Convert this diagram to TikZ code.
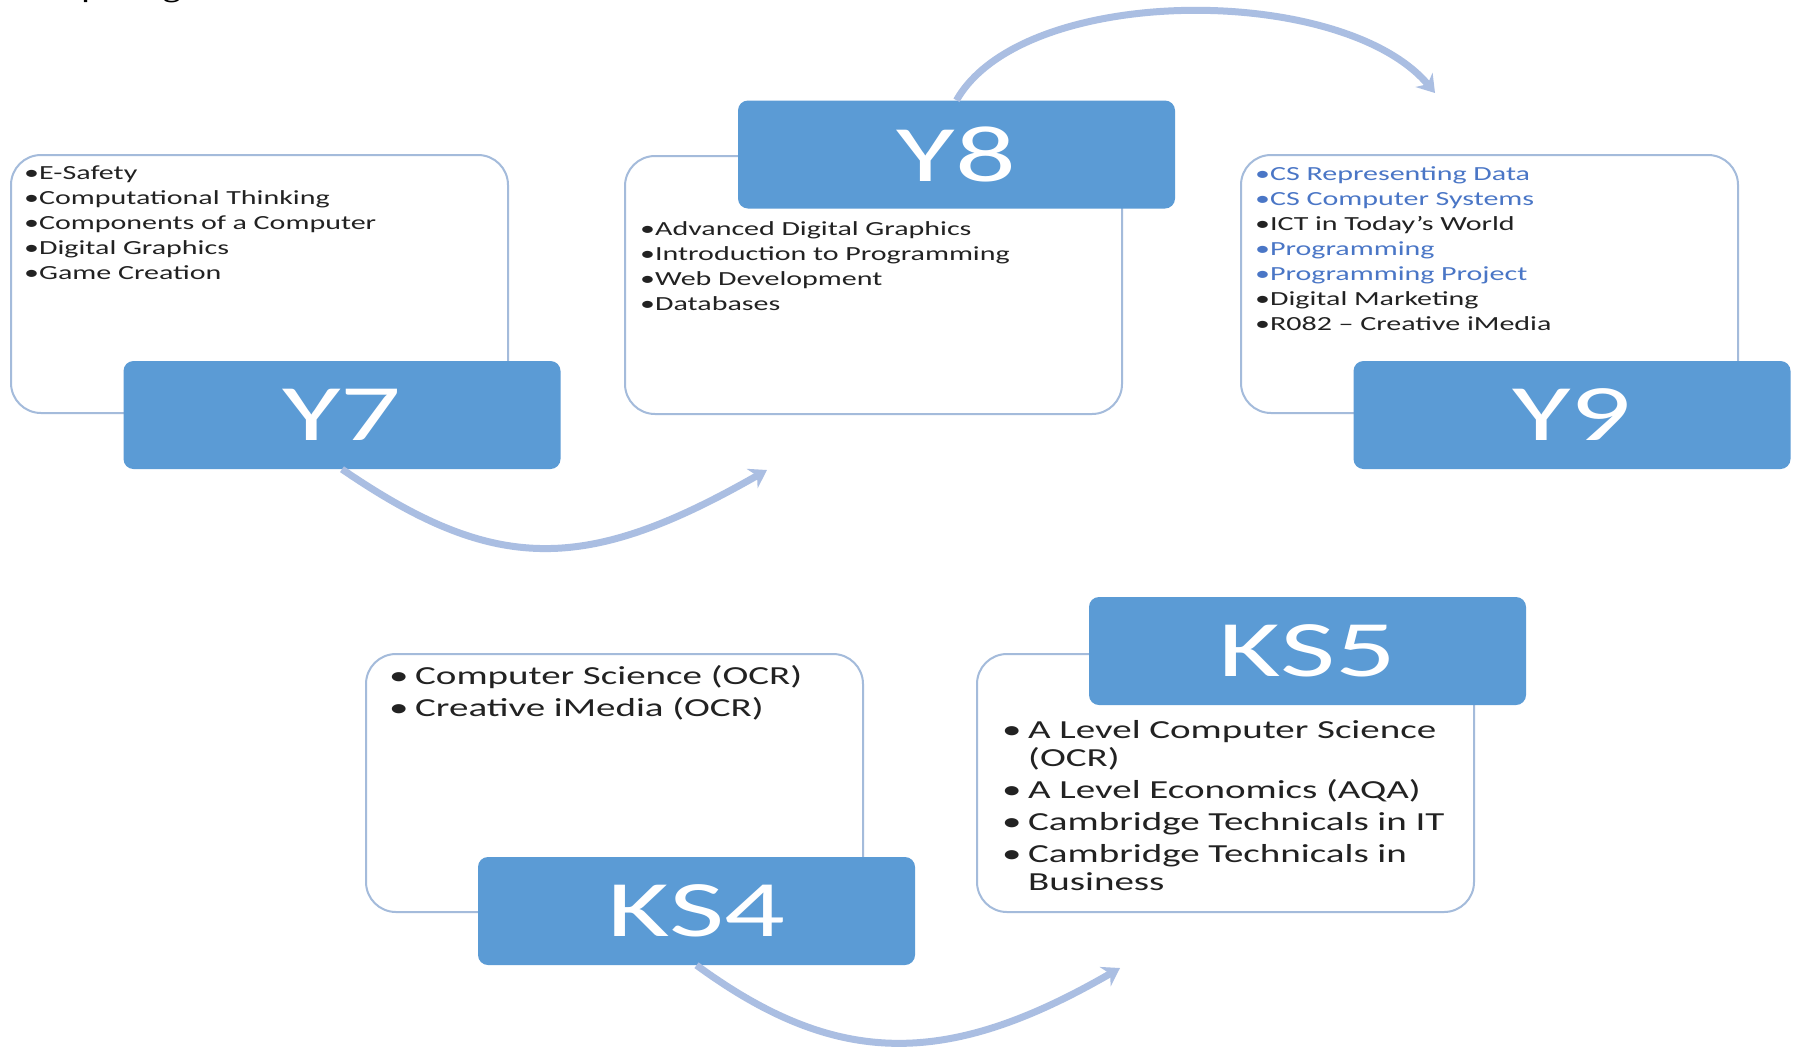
\documentclass[tikz,border=0pt]{standalone}
\usepackage{fontspec}
\setmainfont{Carlito}[FakeStretch=1.5]
\usepackage{tikz}
\usetikzlibrary{arrows.meta}

\definecolor{yearblue}{RGB}{91,155,213}
\definecolor{rimblue}{RGB}{164,187,219}
\definecolor{cycleblue}{RGB}{170,190,226}
\definecolor{topicblue}{RGB}{74,118,198}
\definecolor{topicgrey}{RGB}{34,34,34}

\newcommand{\ksitem}[1]{\par\hangindent=26pt\hangafter=1\noindent\makebox[26pt][l]{•}#1}
\newcommand{\kswrap}{\hfil\break}

\begin{document}
\begin{tikzpicture}[x=1pt,y=-1pt,
    rim/.style={draw=rimblue,line width=2pt,rounded corners=30pt,fill=white,minimum width=497pt,minimum height=258pt,inner sep=0pt},
    yearbox/.style={fill=yearblue,rounded corners=10pt,minimum width=437pt,minimum height=108pt,inner sep=0pt,text=white,font=\fontsize{80}{80}\selectfont},
    yearlist/.style={anchor=north west,inner sep=0pt,text width=470pt,align=left,text=topicgrey,font=\fontsize{20}{25}\selectfont},
    kslist/.style={anchor=north west,inner sep=0pt,text width=470pt,text=topicgrey,font=\fontsize{26}{28}\selectfont\setlength{\parskip}{4pt}},
    cyclearrow/.style={draw=cycleblue,line width=7pt,-{Stealth[length=17pt,width=22pt]}}]
    \useasboundingbox (0,0) rectangle (1798,1047);
    \clip (0,0) rectangle (1798,1047);
    \fill[white] (0,0) rectangle (1798,1047);
    \node[anchor=base west,inner sep=0pt,font=\fontsize{25.5}{30}\selectfont] (title) at (10,-2) {Computing Science};

    \node[rim] (y7rim) at (259.5,284) {};
    \node[yearlist] (y7list) at (24,166) {•E-Safety\\•Computational Thinking\\•Components of a Computer\\•Digital Graphics\\•Game Creation};
    \node[yearbox] (y7) at (342,415) {Y7};

    \node[rim] (y8rim) at (873.5,285) {};
    \node[yearbox] (y8) at (956.5,154.5) {Y8};
    \node[yearlist] (y8list) at (640,221) {•Advanced Digital Graphics\\•Introduction to Programming\\•Web Development\\•Databases};

    \node[rim] (y9rim) at (1489.5,284) {};
    \node[yearlist] (y9list) at (1255,166) {{\color{topicblue}•CS Representing Data}\\{\color{topicblue}•CS Computer Systems}\\•ICT in Today’s World\\{\color{topicblue}•Programming}\\{\color{topicblue}•Programming Project}\\•Digital Marketing\\•R082 – Creative iMedia};
    \node[yearbox] (y9) at (1572,415) {Y9};

    \node[rim] (ks4rim) at (614.5,783) {};
    \node[kslist] (ks4list) at (389,652) {\ksitem{Computer Science (OCR)}\ksitem{Creative iMedia (OCR)}\par};
    \node[yearbox] (ks4) at (696.5,911) {KS4};

    \node[rim] (ks5rim) at (1225.5,783) {};
    \node[yearbox] (ks5) at (1307.5,651) {KS5};
    \node[kslist] (ks5list) at (1002,706) {\ksitem{A Level Computer Science\kswrap(OCR)}\ksitem{A Level Economics (AQA)}\ksitem{Cambridge Technicals in IT}\ksitem{Cambridge Technicals in\kswrap Business}\par};

    \coordinate (y8in) at (767,470);
    \coordinate (y9in) at (1435,93);
    \coordinate (ks5in) at (1120,968);
    \draw[cyclearrow] (y7.south) .. controls (495,574) and (585,574) .. (y8in);
    \draw[cyclearrow] (y8.north) .. controls (1023,-17) and (1343,-17) .. (y9in);
    \draw[cyclearrow] (ks4.south) .. controls (837,1068) and (947,1068) .. (ks5in);
  \end{tikzpicture}
\end{document}
